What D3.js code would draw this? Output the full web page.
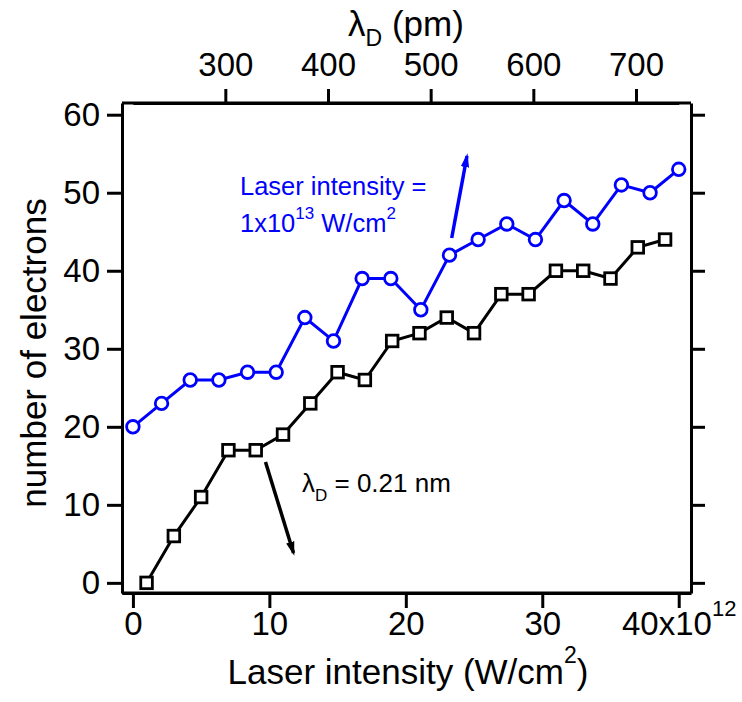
<!DOCTYPE html>
<html>
<head>
<meta charset="utf-8">
<script src="https://cdn.jsdelivr.net/npm/d3@7"></script>
<style>
  body { margin: 0; background: #fff; }
  text { font-family: "Liberation Sans", Arial, sans-serif; }
</style>
</head>
<body>
<div id="chart"></div>
<script>
// blue series: laser intensity fixed, lambda_D varies (top axis)
var blueX = [0, 2.1, 4.2, 6.3, 8.4, 10.5, 12.6, 14.7, 16.8, 18.9, 21.1, 23.2, 25.3, 27.4, 29.5, 31.6, 33.7, 35.8, 37.9, 40];
var blueY = [20, 23, 26, 26, 27, 27, 34, 31, 39, 39, 35, 42, 44, 46, 44, 49, 46, 51, 50, 53];
// black series: lambda_D fixed, laser intensity varies (bottom axis)
var blackX = [1, 3, 5, 7, 9, 11, 13, 15, 17, 19, 21, 23, 25, 27, 29, 31, 33, 35, 37, 39];
var blackY = [0, 6, 11, 17, 17, 19, 23, 27, 26, 31, 32, 34, 32, 37, 37, 40, 40, 39, 43, 44];

var xTicks = [0, 10, 20, 30, 40];
var yTicks = [0, 10, 20, 30, 40, 50, 60];
var topTicks = [300, 400, 500, 600, 700];
// lambda_D (pm) at intensity 0 and 40x10^12
var topAtX = [210, 741.6];

var width = 742, height = 702;
var mLeft = 122, mRight = 691, mTop = 103, mBottom = 593;

var svg = d3.select("#chart").append("svg")
    .attr("width", width)
    .attr("height", height);

var x = d3.scaleLinear().domain([-0.8, 40.9]).range([mLeft, mRight]);
var y = d3.scaleLinear().domain([-1.3, 61.5]).range([mBottom, mTop]);
var xTop = d3.scaleLinear().domain(topAtX).range([x(0), x(40)]);

function styleAxis(g){
    g.selectAll("path.domain").attr("stroke", "#000").attr("stroke-width", 3);
    g.selectAll(".tick line").attr("stroke", "#000").attr("stroke-width", 3);
    g.selectAll(".tick text").attr("font-size", 33).attr("fill", "#000")
        .attr("font-family", "Liberation Sans, Arial, sans-serif");
}

// bottom axis
var gx = svg.append("g")
    .attr("transform", "translate(0," + mBottom + ")")
    .call(d3.axisBottom(x).tickValues(xTicks).tickSize(15).tickSizeOuter(0).tickPadding(4)
        .tickFormat(function(d){ return d === 40 ? "" : d; }));
styleAxis(gx);
var last = gx.selectAll(".tick").filter(function(d){ return d === 40; }).select("text");
last.append("tspan").text("40x10");
last.append("tspan").attr("font-size", 22).attr("dy", "-0.9em").text("12");

// left axis
var gy = svg.append("g")
    .attr("transform", "translate(" + mLeft + ",0)")
    .call(d3.axisLeft(y).tickValues(yTicks).tickSize(15).tickSizeOuter(0).tickPadding(7));
styleAxis(gy);

// right axis, ticks only
var gr = svg.append("g")
    .attr("transform", "translate(" + mRight + ",0)")
    .call(d3.axisRight(y).tickValues(yTicks).tickSize(14).tickSizeOuter(0).tickFormat(""));
styleAxis(gr);

// top axis lambda_D
var gt = svg.append("g")
    .attr("transform", "translate(0," + mTop + ")")
    .call(d3.axisTop(xTop).tickValues(topTicks).tickSize(14).tickSizeOuter(0).tickPadding(13));
styleAxis(gt);
// full frame lines
svg.append("line").attr("x1", mLeft).attr("x2", mRight).attr("y1", mTop).attr("y2", mTop)
    .attr("stroke", "#000").attr("stroke-width", 3);
svg.append("line").attr("x1", mLeft).attr("x2", mRight).attr("y1", mBottom).attr("y2", mBottom)
    .attr("stroke", "#000").attr("stroke-width", 3);

// axis titles
var xl = svg.append("text")
    .attr("x", 408)
    .attr("y", 684)
    .attr("text-anchor", "middle")
    .attr("font-size", 35);
xl.append("tspan").text("Laser intensity (W/cm");
xl.append("tspan").attr("font-size", 23).attr("dy", "-0.9em").text("2");
xl.append("tspan").attr("dy", "0.6em").text(")");

svg.append("text")
    .attr("transform", "translate(46,353) rotate(-90)")
    .attr("text-anchor", "middle")
    .attr("font-size", 35)
    .text("number of electrons");

var tl = svg.append("text")
    .attr("x", 406)
    .attr("y", 36)
    .attr("text-anchor", "middle")
    .attr("font-size", 35);
tl.append("tspan").text("\u03bb");
tl.append("tspan").attr("font-size", 23).attr("dy", "0.45em").text("D");
tl.append("tspan").attr("dy", "-0.3em").text(" (pm)");

// lines and markers
var line = d3.line()
    .x(function(d){ return x(d[0]); })
    .y(function(d){ return y(d[1]); });

var blackData = blackX.map(function(v, i){ return [v, blackY[i]]; });
var blueData = blueX.map(function(v, i){ return [v, blueY[i]]; });

svg.append("path")
    .datum(blackData)
    .attr("d", line)
    .attr("fill", "none")
    .attr("stroke", "#000")
    .attr("stroke-width", 3);

svg.selectAll(".sq")
    .data(blackData)
    .enter()
    .append("rect")
    .attr("class", "sq")
    .attr("x", function(d){ return x(d[0]) - 5.8; })
    .attr("y", function(d){ return y(d[1]) - 5.8; })
    .attr("width", 11.6)
    .attr("height", 11.6)
    .attr("fill", "#fff")
    .attr("stroke", "#000")
    .attr("stroke-width", 2.8);

svg.append("path")
    .datum(blueData)
    .attr("d", line)
    .attr("fill", "none")
    .attr("stroke", "#0000ff")
    .attr("stroke-width", 3);

svg.selectAll(".circ")
    .data(blueData)
    .enter()
    .append("circle")
    .attr("class", "circ")
    .attr("cx", function(d){ return x(d[0]); })
    .attr("cy", function(d){ return y(d[1]); })
    .attr("r", 6.3)
    .attr("fill", "#fff")
    .attr("stroke", "#0000ff")
    .attr("stroke-width", 2.8);

// arrows
var defs = svg.append("defs");
function marker(id, color){
    defs.append("marker")
        .attr("id", id)
        .attr("viewBox", "0 0 10 10")
        .attr("refX", 8).attr("refY", 5)
        .attr("markerWidth", 4).attr("markerHeight", 4)
        .attr("orient", "auto")
        .append("path")
        .attr("d", "M0,2 L10,5 L0,8 z")
        .attr("fill", color);
}
marker("ab", "#0000ff");
marker("ak", "#000");

svg.append("line")
    .attr("x1", 451.7).attr("y1", 238)
    .attr("x2", 467).attr("y2", 156)
    .attr("stroke", "#0000ff").attr("stroke-width", 3.5)
    .attr("marker-end", "url(#ab)");

svg.append("line")
    .attr("x1", 265.5).attr("y1", 462)
    .attr("x2", 293.5).attr("y2", 553)
    .attr("stroke", "#000").attr("stroke-width", 3.5)
    .attr("marker-end", "url(#ak)");

// annotations
svg.append("text")
    .attr("x", 240).attr("y", 195)
    .attr("font-size", 25.5)
    .attr("fill", "#0000ff")
    .text("Laser intensity =");
var a2 = svg.append("text")
    .attr("x", 240).attr("y", 232)
    .attr("font-size", 25.5)
    .attr("fill", "#0000ff");
a2.append("tspan").text("1x10");
a2.append("tspan").attr("font-size", 17).attr("dy", "-0.75em").text("13");
a2.append("tspan").attr("dy", "0.5em").text(" W/cm");
a2.append("tspan").attr("font-size", 17).attr("dy", "-0.75em").text("2");

var a3 = svg.append("text")
    .attr("x", 302).attr("y", 492)
    .attr("font-size", 26)
    .attr("fill", "#000");
a3.append("tspan").text("\u03bb");
a3.append("tspan").attr("font-size", 17).attr("dy", "0.5em").text("D");
a3.append("tspan").attr("dy", "-0.33em").text(" = 0.21 nm");
</script>
</body>
</html>
